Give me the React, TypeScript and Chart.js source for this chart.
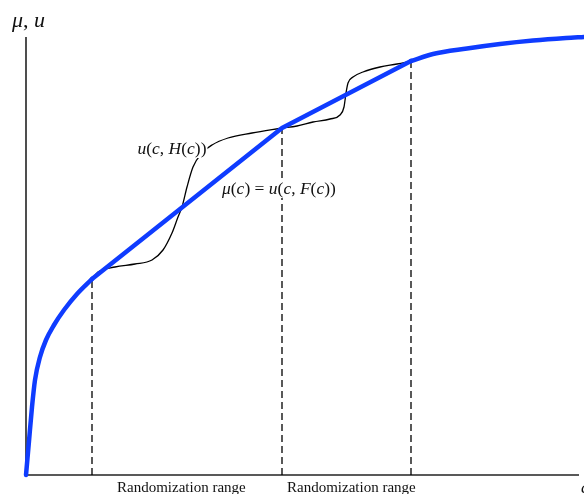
import React, { useEffect, useRef } from "react";
import { Chart, registerables } from "chart.js";

Chart.register(...registerables);

// Axis extents (data units)
const xAxisEnd = 553;
const yAxisTop = 438;

// Blue envelope mu(c): curved head, straight chords, curved tail
const blueHeadX = [0, 3, 6, 9, 14, 20, 28, 38, 51, 66];
const blueHeadY = [0, 34, 68, 95, 118, 135, 150, 165, 181, 196];
const blueChordX = [66, 256, 385];
const blueChordY = [196, 347, 414];
const blueTailX = [385, 407, 441, 474, 507, 540, 558];
const blueTailY = [414, 421, 426.5, 431, 434.5, 437, 438];

// Black curve u(c, H(c)) between kinks
const blackAX = [66, 72, 89, 109, 126, 137, 146, 152, 156, 161, 167, 176, 186, 202, 226, 256];
const blackAY = [196, 203, 208, 211, 215, 225, 242, 258, 268, 288, 308, 322, 330, 337, 342, 347];
const blackBX = [256, 271, 287, 304, 314, 318, 320, 322, 327, 337, 354, 371, 385];
const blackBY = [347, 349, 353, 356, 360, 368, 382, 392, 398, 403, 408, 411, 414];

// Dashed vertical drops
const dashX = [66, 256, 385];
const dashTop = [196, 347, 414];

// Text labels (segments between * are italic)
const labelTexts = ["*μ*, *u*", "*u*(*c*, *H*(*c*))", "*μ*(*c*) = *u*(*c*, *F*(*c*))", "Randomization range", "Randomization range", "*c*"];
const labelX = [-14, 111.5, 196, 91, 261, 555];
const labelY = [448, 321, 281, -17, -17, -18];
const labelSize = [22, 17.5, 17.5, 15, 15, 17];
const labelBox = [false, true, true, false, false, false];

const pts = (xs: number[], ys: number[]) => xs.map((x, i) => ({ x, y: ys[i] }));

const FONT = "'Liberation Serif', 'Times New Roman', serif";
const BLUE = "#0f3cff";

const labelPlugin = {
  id: "textLabels",
  afterDatasetsDraw(chart: any) {
    const { ctx, scales } = chart;
    const xs = scales.x;
    const ys = scales.y;
    ctx.save();
    ctx.textAlign = "left";
    ctx.textBaseline = "alphabetic";
    labelTexts.forEach((txt, i) => {
      const x0 = xs.getPixelForValue(labelX[i]);
      const py = ys.getPixelForValue(labelY[i]);
      const parts = txt.split("*");
      const fontFor = (k: number) => `${k % 2 === 1 ? "italic " : ""}${labelSize[i]}px ${FONT}`;
      let w = 0;
      parts.forEach((seg, k) => {
        if (!seg) return;
        ctx.font = fontFor(k);
        w += ctx.measureText(seg).width;
      });
      if (labelBox[i]) {
        ctx.fillStyle = "#fff";
        ctx.fillRect(x0 + 1, py - 14, w, 18);
      }
      ctx.fillStyle = "#111";
      let px = x0;
      parts.forEach((seg, k) => {
        if (!seg) return;
        ctx.font = fontFor(k);
        ctx.fillText(seg, px, py);
        px += ctx.measureText(seg).width;
      });
    });
    ctx.restore();
  },
};

export default function App() {
  const ref = useRef<HTMLCanvasElement | null>(null);

  useEffect(() => {
    if (!ref.current) return;
    const line = (data: any[], color: string, width: number, extra: any = {}) => ({
      data,
      showLine: true,
      borderColor: color,
      backgroundColor: color,
      borderWidth: width,
      pointRadius: 0,
      pointHoverRadius: 0,
      fill: false,
      tension: 0,
      ...extra,
    });

    const datasets: any[] = [
      line(pts(blueHeadX, blueHeadY), BLUE, 4.5, { cubicInterpolationMode: "monotone", borderCapStyle: "round", borderJoinStyle: "round", clip: false, order: 0 }),
      line(pts(blueChordX, blueChordY), BLUE, 4.5, { borderCapStyle: "round", borderJoinStyle: "round", clip: false, order: 0 }),
      line(pts(blueTailX, blueTailY), BLUE, 4.5, { cubicInterpolationMode: "monotone", borderCapStyle: "round", clip: false, order: 0 }),
      line(pts(blackAX, blackAY), "#000", 1.3, { cubicInterpolationMode: "monotone", order: 1 }),
      line(pts(blackBX, blackBY), "#000", 1.3, { cubicInterpolationMode: "monotone", order: 1 }),
      ...dashX.map((dx, i) =>
        line(pts([dx, dx], [0, dashTop[i]]), "#000", 1.3, { borderDash: [7, 4], order: 2 })
      ),
      line(pts([0, xAxisEnd], [0, 0]), "#222", 1.6, { clip: false, order: 3 }),
      line(pts([0, 0], [0, yAxisTop]), "#222", 1.6, { clip: false, order: 3 }),
    ];

    const chart = new Chart(ref.current, {
      type: "scatter",
      data: { datasets },
      options: {
        animation: false,
        responsive: false,
        devicePixelRatio: 1,
        layout: { padding: { left: 26, right: 0, top: 37, bottom: 19 } },
        plugins: { legend: { display: false }, tooltip: { enabled: false } },
        events: [],
        scales: {
          x: { type: "linear", min: 0, max: 558, display: false },
          y: { type: "linear", min: 0, max: 438, display: false },
        },
      },
      plugins: [labelPlugin],
    });
    return () => chart.destroy();
  }, []);

  return (
    <div style={{ position: "fixed", left: 0, top: 0, width: 584, height: 494, background: "#fff" }}>
      <canvas ref={ref} width={584} height={494} />
    </div>
  );
}
